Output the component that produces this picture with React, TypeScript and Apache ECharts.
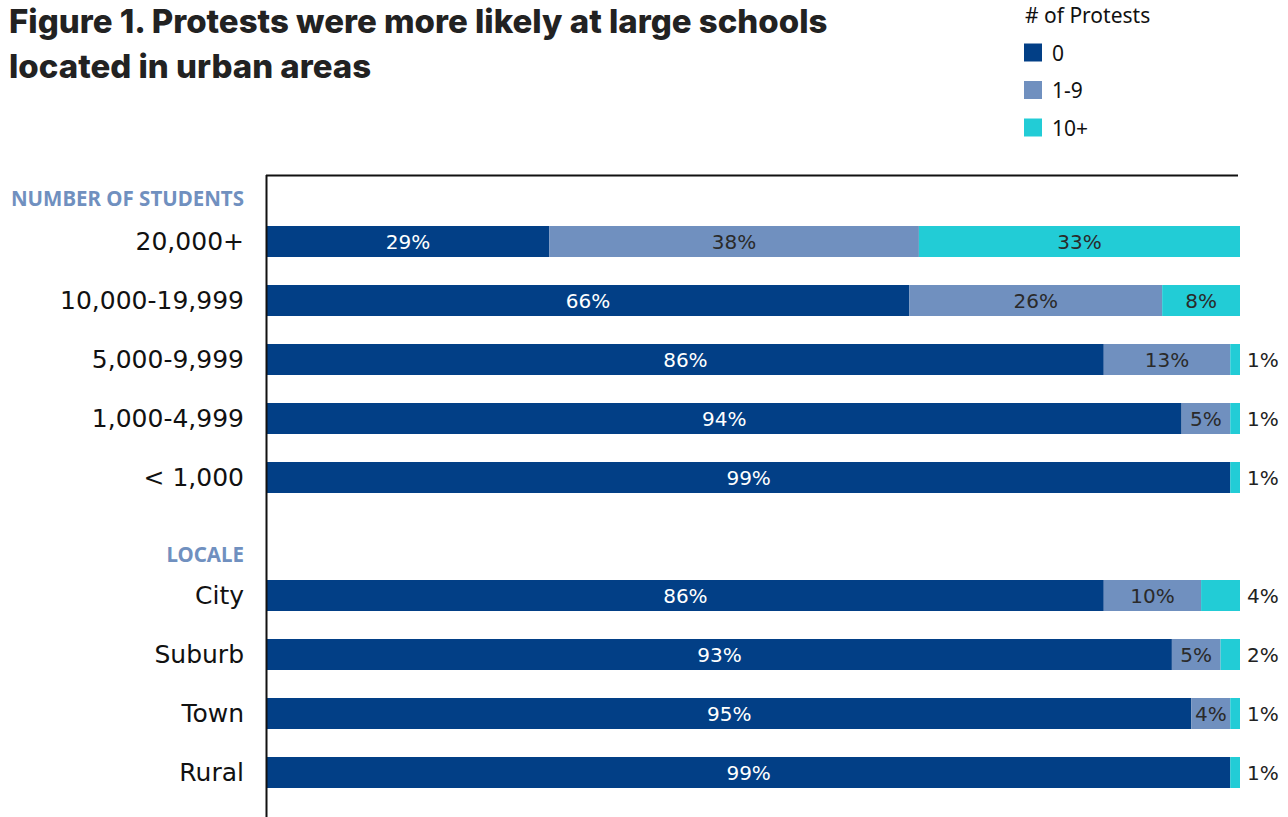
import React, { useEffect, useRef } from "react";
import * as echarts from "echarts";

const categories = [
  "20,000+",
  "10,000-19,999",
  "5,000-9,999",
  "1,000-4,999",
  "< 1,000",
  "",
  "City",
  "Suburb",
  "Town",
  "Rural",
];
const seriesNames = ["0", "1-9", "10+"];
const zeroProtests = [29, 66, 86, 94, 99, null, 86, 93, 95, 99];
const oneToNine = [38, 26, 13, 5, 0, null, 10, 5, 4, 0];
const tenPlus = [33, 8, 1, 1, 1, null, 4, 2, 1, 1];
const colors = ["#023f86", "#7090bf", "#22ccd6"];
const groupHeaders = [
  { text: "NUMBER OF STUDENTS", y: 198 },
  { text: "LOCALE", y: 554 },
];

const FONT = "'Noto Sans', sans-serif";
const WIDE = "'DejaVu Sans', sans-serif";

export default function App() {
  const ref = useRef<HTMLDivElement>(null);
  useEffect(() => {
    if (!ref.current) return;
    const chart = echarts.init(ref.current, null, { renderer: "svg" });
    const fmt = (p: any) => (p.value ? p.value + "%" : "");
    const tenPlusData = tenPlus.map((v) =>
      v != null && v <= 4
        ? {
            value: v,
            label: { position: "right", distance: 7, color: "#222", fontSize: 20 },
          }
        : v
    );
    const barLabel = (color: string) => ({
      show: true,
      position: "inside",
      color,
      fontFamily: WIDE,
      fontSize: 20,
      formatter: fmt,
    });
    chart.setOption({
      animation: false,
      title: {
        text: "Figure 1. Protests were more likely at large schools\nlocated in urban areas",
        left: 9,
        top: -2,
        padding: 0,
        textStyle: {
          fontFamily: "Inter, sans-serif",
          fontWeight: 800,
          fontSize: 33,
          lineHeight: 45,
          color: "#222",
        },
      },
      legend: {
        orient: "vertical",
        left: 1024,
        top: 42,
        padding: 0,
        itemWidth: 18,
        itemHeight: 18,
        itemGap: 16.5,
        icon: "rect",
        data: seriesNames,
        textStyle: { fontFamily: FONT, fontSize: 21, color: "#111", padding: [0, 0, 0, 5] },
      },
      grid: { left: 267, right: 48, top: 212, bottom: 15, containLabel: false },
      xAxis: {
        type: "value",
        min: 0,
        max: 100,
        show: false,
      },
      yAxis: {
        type: "category",
        inverse: true,
        data: categories,
        axisLine: { show: false },
        axisTick: { show: false },
        splitLine: { show: false },
        axisLabel: {
          margin: 23,
          fontFamily: WIDE,
          fontSize: 25,
          color: "#111",
        },
      },
      graphic: [
        {
          type: "line",
          shape: { x1: 266.5, y1: 175, x2: 266.5, y2: 817 },
          style: { stroke: "#111", lineWidth: 2 },
          z: 10,
        },
        {
          type: "line",
          shape: { x1: 266, y1: 175.5, x2: 1238, y2: 175.5 },
          style: { stroke: "#111", lineWidth: 2 },
          z: 10,
        },
        {
          type: "text",
          left: 1025,
          top: 4,
          style: { text: "# of Protests", fontFamily: FONT, fontSize: 21, fill: "#111" },
        },
        ...groupHeaders.map((h) => ({
          type: "text",
          x: 244,
          y: h.y,
          style: {
            text: h.text,
            fontFamily: FONT,
            fontWeight: 700,
            fontSize: 20.5,
            fill: "#7090bf",
            align: "right",
            verticalAlign: "middle",
          },
        })),
      ],
      series: [
        {
          name: seriesNames[0],
          type: "bar",
          stack: "total",
          barWidth: 31,
          itemStyle: { color: colors[0] },
          label: barLabel("#fff"),
          data: zeroProtests,
        },
        {
          name: seriesNames[1],
          type: "bar",
          stack: "total",
          barWidth: 31,
          itemStyle: { color: colors[1] },
          label: barLabel("#2a2a2a"),
          data: oneToNine,
        },
        {
          name: seriesNames[2],
          type: "bar",
          stack: "total",
          barWidth: 31,
          itemStyle: { color: colors[2] },
          label: barLabel("#2a2a2a"),
          data: tenPlusData,
        },
      ],
    });
    return () => chart.dispose();
  }, []);
  return (
    <div
      ref={ref}
      style={{ position: "fixed", left: 0, top: 0, width: 1288, height: 817, background: "#fff" }}
    />
  );
}
